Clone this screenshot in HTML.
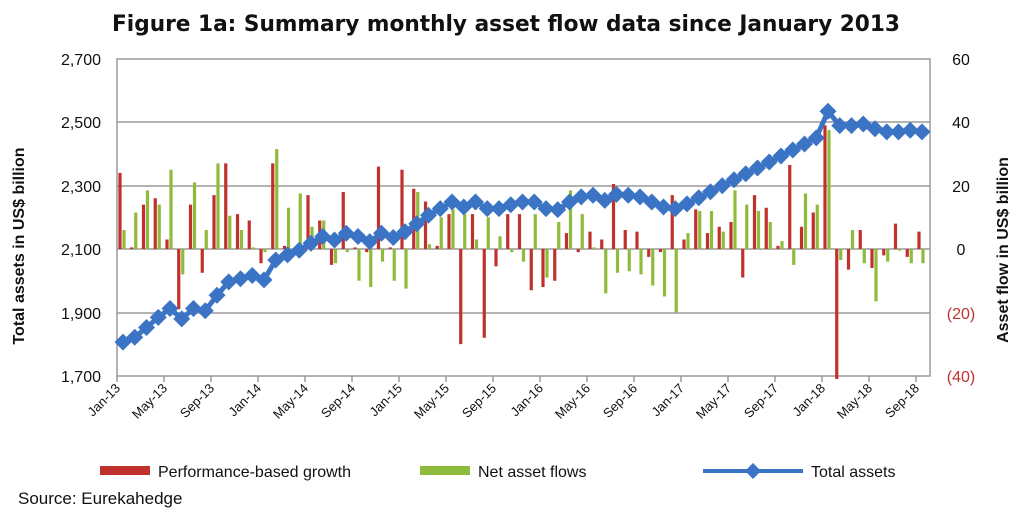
<!DOCTYPE html>
<html><head><meta charset="utf-8"><style>html,body{margin:0;padding:0;background:#fff}svg{display:block}</style></head>
<body>
<svg width="1024" height="516" viewBox="0 0 1024 516" xmlns="http://www.w3.org/2000/svg" font-family="Liberation Sans, Arial, sans-serif">
<defs>
<marker id="dm" markerUnits="userSpaceOnUse" markerWidth="18" markerHeight="18" refX="9" refY="9" orient="0" viewBox="0 0 18 18">
<path d="M9 0.5L17.5 9L9 17.5L0.5 9Z" fill="#3b74c4"/>
</marker>
</defs>
<text x="112" y="31" font-size="22" font-weight="bold" font-family="DejaVu Sans, sans-serif" textLength="788" lengthAdjust="spacingAndGlyphs" fill="#111">Figure 1a: Summary monthly asset flow data since January 2013</text>
<g stroke="#9a9a9a" stroke-width="1.5" fill="none">
<rect x="117" y="59" width="813" height="317"/>
<line x1="117" y1="122" x2="930" y2="122"/>
<line x1="117" y1="186" x2="930" y2="186"/>
<line x1="117" y1="249" x2="930" y2="249"/>
<line x1="117" y1="313" x2="930" y2="313"/>
</g>
<g stroke="#9a9a9a" stroke-width="1.5">
<path d="M117 376v6M164 376v6M211 376v6M258 376v6M305 376v6M352 376v6M399 376v6M446 376v6M493 376v6M540 376v6M587 376v6M634 376v6M681 376v6M728 376v6M775 376v6M822 376v6M869 376v6M916 376v6"/>
</g>
<g transform="translate(120,249) scale(11.75,-3.17)">
<path fill="none" stroke="#c0312d" stroke-width="3.2" vector-effect="non-scaling-stroke" d="M0 0V24M1 0V0.5M2 0V14M3 0V16M4 0V3M5 0V-19M6 0V14M7 0V-7.5M8 0V17M9 0V27M10 0V11M11 0V9M12 0V-4.5M13 0V27M14 0V1M15 0V0.5M16 0V17M17 0V9M18 0V-5M19 0V18M20 0V0.5M21 0V-1M22 0V26M23 0V0.5M24 0V25M25 0V19M26 0V15M27 0V1M28 0V11M29 0V-30M30 0V11M31 0V-28M32 0V-5.5M33 0V11M34 0V11M35 0V-13M36 0V-12M37 0V-10M38 0V5M39 0V-1M40 0V5.5M41 0V3M42 0V20.5M43 0V6M44 0V5.5M45 0V-2.5M46 0V-1M47 0V17M48 0V3M49 0V12.5M50 0V5M51 0V7M52 0V8.5M53 0V-9M54 0V17M55 0V13M56 0V1M57 0V26.5M58 0V7M59 0V11.5M60 0V39M61 0V-41M62 0V-6.5M63 0V6M64 0V-6M65 0V-2M66 0V8M67 0V-2.5M68 0V5.5"/>
</g>
<g transform="translate(124,249) scale(11.75,-3.17)">
<path fill="none" stroke="#8fbb3c" stroke-width="3.2" vector-effect="non-scaling-stroke" d="M0 0V6M1 0V11.5M2 0V18.5M3 0V14M4 0V25M5 0V-8M6 0V21M7 0V6M8 0V27M9 0V10.5M10 0V6M11 0V0.5M12 0V-1M13 0V31.5M14 0V13M15 0V17.5M16 0V7M17 0V9M18 0V-4.5M19 0V-1M20 0V-10M21 0V-12M22 0V-4M23 0V-10M24 0V-12.5M25 0V18M26 0V1.5M27 0V10M28 0V12.5M29 0V11M30 0V3M31 0V10M32 0V4M33 0V-1M34 0V-4M35 0V11M36 0V-9M37 0V8.5M38 0V18.5M39 0V11M40 0V0.5M41 0V-14M42 0V-7.5M43 0V-7M44 0V-8M45 0V-11.5M46 0V-15M47 0V-20M48 0V5M49 0V12M50 0V12M51 0V5.5M52 0V18.5M53 0V14M54 0V12M55 0V8.5M56 0V2.5M57 0V-5M58 0V17.5M59 0V14M60 0V37.5M61 0V-3.5M62 0V6M63 0V-4.5M64 0V-16.5M65 0V-4M66 0V-0.5M67 0V-4.5M68 0V-4.5"/>
</g>
<polyline fill="none" stroke="#3b74c4" stroke-width="5" stroke-linejoin="round" marker-start="url(#dm)" marker-mid="url(#dm)" marker-end="url(#dm)" points="123,342.1 134.75,337.3 146.5,327.5 158.25,317.4 170,308.5 181.75,318.9 193.5,308.5 205.25,310.7 217,295.2 228.75,281.9 240.5,278.7 252.25,275.5 264,279.9 275.75,260 287.5,254.9 299.25,250.2 311,243.2 322.75,236.5 334.5,240 346.25,233.3 358,236.5 369.75,241.6 381.5,233.3 393.25,237.5 405,231.8 416.75,223.8 428.5,215.3 440.25,208.6 452,202 463.75,207 475.5,202 487.25,208.6 499,208.6 510.75,204.8 522.5,202 534.25,202 546,208.6 557.75,209.6 569.5,202 581.25,196.9 593,195.3 604.75,200.4 616.5,194.4 628.25,195.3 640,196.9 651.75,202 663.5,207 675.25,208.6 687,203.9 698.75,197.8 710.5,191.8 722.25,185.8 734,179.8 745.75,173.8 757.5,168 769.25,162 781,156 792.75,150 804.5,144 816.25,137.9 828,111.3 839.75,125.6 851.5,125.6 863.25,124 875,128.7 886.75,131.9 898.5,131.9 910.25,130.3 922,131.9"/>
<g font-size="16" fill="#111" text-anchor="end">
<text x="101" y="65">2,700</text>
<text x="101" y="128">2,500</text>
<text x="101" y="192">2,300</text>
<text x="101" y="255">2,100</text>
<text x="101" y="319">1,900</text>
<text x="101" y="382">1,700</text>
</g>
<g font-size="16" text-anchor="middle">
<text x="961" y="65" fill="#111">60</text>
<text x="961" y="128" fill="#111">40</text>
<text x="961" y="192" fill="#111">20</text>
<text x="961" y="255" fill="#111">0</text>
<text x="961" y="319" fill="#c0312d">(20)</text>
<text x="961" y="382" fill="#c0312d">(40)</text>
</g>
<text transform="translate(24,246) rotate(-90)" font-size="16" font-weight="bold" text-anchor="middle" fill="#111">Total assets in US$ billion</text>
<text transform="translate(1008,250) rotate(-90)" font-size="16" font-weight="bold" text-anchor="middle" fill="#111">Asset flow in US$ billion</text>
<g font-size="13" fill="#111" text-anchor="end">
<text transform="translate(121,389) rotate(-45)">Jan-13</text>
<text transform="translate(168,389) rotate(-45)">May-13</text>
<text transform="translate(215,389) rotate(-45)">Sep-13</text>
<text transform="translate(262,389) rotate(-45)">Jan-14</text>
<text transform="translate(309,389) rotate(-45)">May-14</text>
<text transform="translate(356,389) rotate(-45)">Sep-14</text>
<text transform="translate(403,389) rotate(-45)">Jan-15</text>
<text transform="translate(450,389) rotate(-45)">May-15</text>
<text transform="translate(497,389) rotate(-45)">Sep-15</text>
<text transform="translate(544,389) rotate(-45)">Jan-16</text>
<text transform="translate(591,389) rotate(-45)">May-16</text>
<text transform="translate(638,389) rotate(-45)">Sep-16</text>
<text transform="translate(685,389) rotate(-45)">Jan-17</text>
<text transform="translate(732,389) rotate(-45)">May-17</text>
<text transform="translate(779,389) rotate(-45)">Sep-17</text>
<text transform="translate(826,389) rotate(-45)">Jan-18</text>
<text transform="translate(873,389) rotate(-45)">May-18</text>
<text transform="translate(920,389) rotate(-45)">Sep-18</text>
</g>
<rect x="100" y="466" width="50" height="9" fill="#c0312d"/>
<text x="158" y="477" font-size="16" fill="#111">Performance-based growth</text>
<rect x="420" y="466" width="50" height="9" fill="#8fbb3c"/>
<text x="478" y="477" font-size="16" fill="#111">Net asset flows</text>
<line x1="703" y1="471" x2="803" y2="471" stroke="#3b74c4" stroke-width="4"/>
<path d="M753 463L761 471L753 479L745 471Z" fill="#3b74c4"/>
<text x="811" y="477" font-size="16" fill="#111">Total assets</text>
<text x="18" y="504" font-size="17" fill="#111">Source: Eurekahedge</text>
</svg>
</body></html>
